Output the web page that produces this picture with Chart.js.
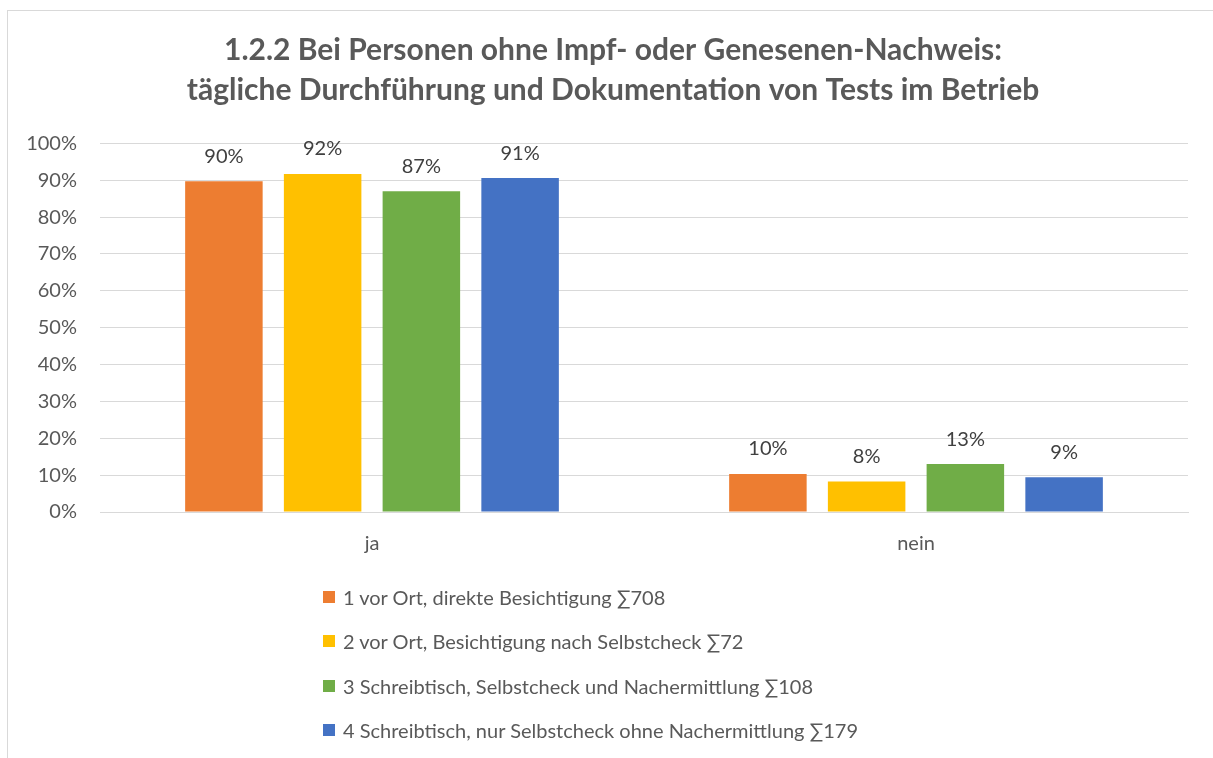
<!DOCTYPE html>
<html>
<head>
<meta charset="utf-8">
<script src="https://cdn.jsdelivr.net/npm/chart.js@4"></script>
<style>
  html, body { margin: 0; padding: 0; background: #ffffff; }
  #wrap { position: relative; width: 1213px; height: 758px; overflow: hidden; }
  #frame { position: absolute; left: 7px; top: 10px; width: 1230px; height: 780px; border: 1px solid #d9d9d9; box-sizing: border-box; pointer-events: none; }
  canvas { position: absolute; left: 0; top: 0; }
  #legend { position: absolute; left: 323px; top: 575px; font-family: Lato, "Open Sans", sans-serif; font-size: 20px; color: #595959; }
  .row { display: flex; align-items: center; height: 44.3px; }
  .box { width: 12px; height: 12px; margin-right: 8px; }
</style>
</head>
<body>
<div id="wrap">
  <div id="frame"></div>
  <canvas id="c" width="1213" height="758"></canvas>
  <div id="legend"></div>
</div>
<script>
const categories = ['ja', 'nein'];
const seriesNames = [
  '1 vor Ort, direkte Besichtigung \u2211708',
  '2 vor Ort, Besichtigung nach Selbstcheck \u221172',
  '3 Schreibtisch, Selbstcheck und Nachermittlung \u2211108',
  '4 Schreibtisch, nur Selbstcheck ohne Nachermittlung \u2211179'
];
const series1 = [89.7, 10.3];
const series2 = [91.7, 8.3];
const series3 = [87.0, 13.0];
const series4 = [90.6, 9.4];
const seriesColors = ['#ED7D31', '#FFC000', '#70AD47', '#4472C4'];
const yTicks = [0, 10, 20, 30, 40, 50, 60, 70, 80, 90, 100];
const titleLines = ['1.2.2 Bei Personen ohne Impf- oder Genesenen-Nachweis:', 't\u00e4gliche Durchf\u00fchrung und Dokumentation von Tests im Betrieb'];

const FONT = 'Lato, "Open Sans", sans-serif';
const allSeries = [series1, series2, series3, series4];

const valueLabels = {
  id: 'valueLabels',
  afterDatasetsDraw(chart) {
    const ctx = chart.ctx;
    ctx.save();
    ctx.font = '20px ' + FONT;
    ctx.fillStyle = '#404040';
    ctx.textAlign = 'center';
    ctx.textBaseline = 'middle';
    chart.data.datasets.forEach((ds, i) => {
      const meta = chart.getDatasetMeta(i);
      meta.data.forEach((el, j) => {
        ctx.fillText(Math.round(ds.data[j]) + '%', el.x, el.y - 25);
      });
    });
    ctx.restore();
  }
};

const titleShift = {
  id: 'titleShift',
  afterLayout(chart) {
    const t = chart.titleBlock;
    if (t) { t.left = 38; t.width = t.right - t.left; }
  }
};

new Chart(document.getElementById('c'), {
  type: 'bar',
  data: {
    labels: categories,
    datasets: allSeries.map((d, i) => ({
      label: seriesNames[i],
      data: d,
      backgroundColor: seriesColors[i],
      borderWidth: 0,
      barPercentage: 0.785,
      categoryPercentage: 0.726
    }))
  },
  options: {
    responsive: false,
    animation: false,
    layout: { padding: { left: 0, right: 25, top: 0, bottom: 196 } },
    plugins: {
      legend: { display: false },
      tooltip: { enabled: false },
      title: {
        display: true,
        text: titleLines,
        color: '#595959',
        font: { family: FONT, size: 30, weight: 'bold', lineHeight: 1.34 },
        padding: { top: 30, bottom: 33 }
      }
    },
    scales: {
      x: {
        grid: { display: false },
        border: { display: true, color: '#d9d9d9' },
        ticks: { color: '#595959', font: { family: FONT, size: 20 }, padding: 12 },
        afterFit(s) { s.height = 50; }
      },
      y: {
        min: 0, max: 100,
        afterBuildTicks(s) { s.ticks = yTicks.map(v => ({ value: v })); },
        grid: { color: '#d9d9d9', drawTicks: false, lineWidth: 1 },
        border: { display: false },
        ticks: { color: '#595959', font: { family: FONT, size: 20 }, padding: 23, callback: v => v + '%' },
        afterFit(s) { s.width = 100; }
      }
    }
  },
  plugins: [valueLabels, titleShift]
});

const legend = document.getElementById('legend');
seriesNames.forEach((n, i) => {
  const row = document.createElement('div');
  row.className = 'row';
  const box = document.createElement('span');
  box.className = 'box';
  box.style.background = seriesColors[i];
  const txt = document.createElement('span');
  txt.textContent = n;
  row.appendChild(box);
  row.appendChild(txt);
  legend.appendChild(row);
});
</script>
</body>
</html>
